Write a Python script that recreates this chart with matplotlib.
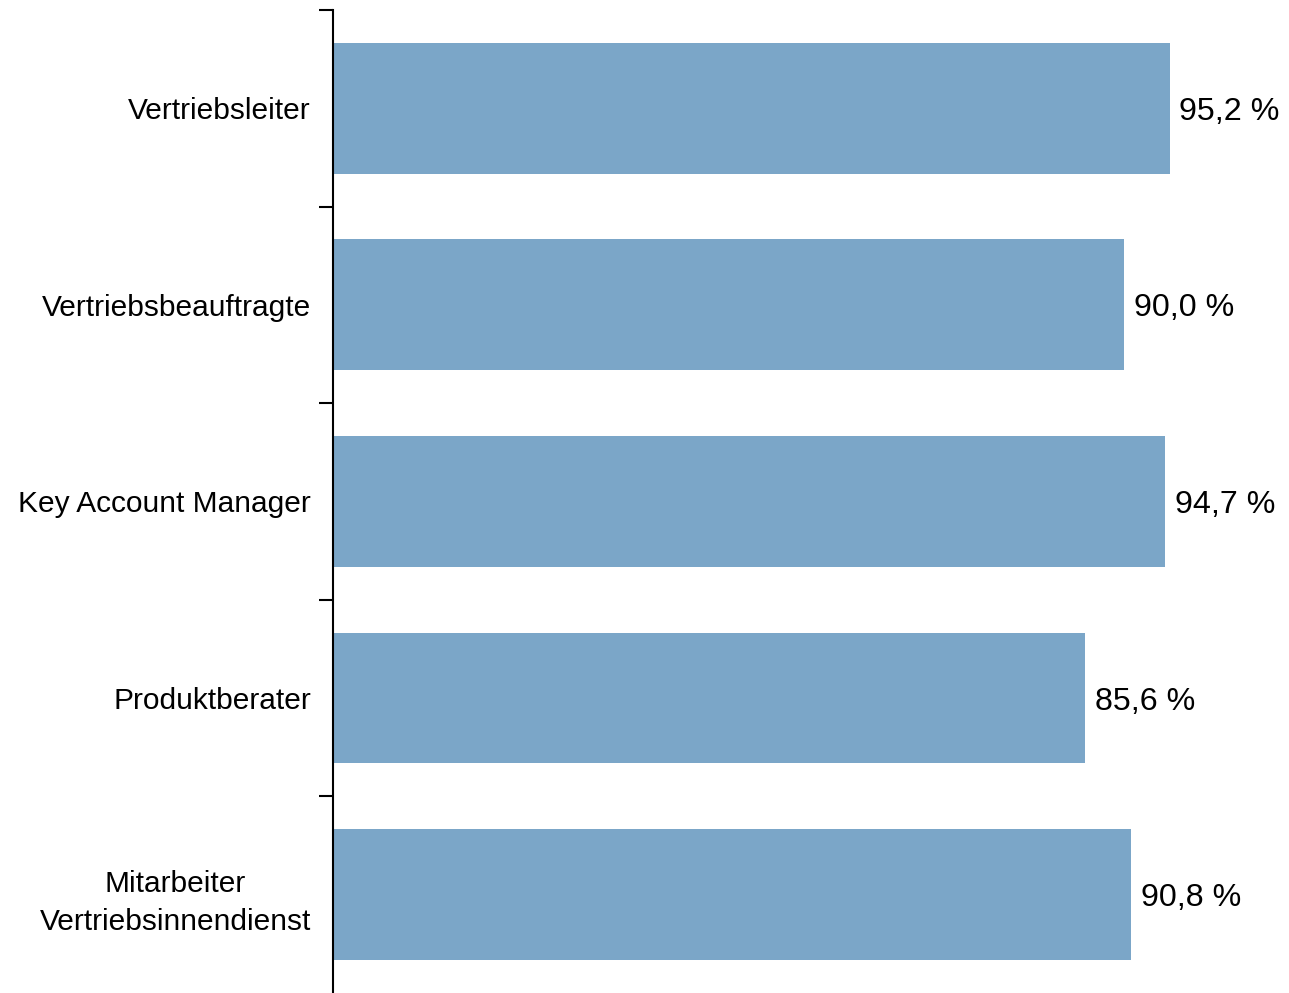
import matplotlib.pyplot as plt
import numpy as np

plt.rcParams['font.family'] = ['Liberation Sans', 'DejaVu Sans']

# job roles and their share in percent
roles = ['Vertriebsleiter', 'Vertriebsbeauftragte', 'Key Account Manager',
         'Produktberater', 'Mitarbeiter\nVertriebsinnendienst']
shares = [95.2, 90.0, 94.7, 85.6, 90.8]

bar_color = '#7ba6c8'

fig = plt.figure(figsize=(12.89, 9.93), dpi=100)
ax = fig.add_axes([333 / 1289, 0.0, 879 / 1289, 0.99])

y = np.arange(len(roles))
ax.barh(y, shares, height=0.665, color=bar_color)

for yi, v in zip(y, shares):
    ax.text(v + 1.1, yi, f'{v:.1f} %'.replace('.', ','), va='center_baseline',
            ha='left', fontsize=23.2, clip_on=False)

ax.set_xlim(0, 100)
ax.set_ylim(len(roles) - 0.5, -0.5)

for s in ['top', 'right', 'bottom']:
    ax.spines[s].set_visible(False)
ax.spines['left'].set_linewidth(1.5)

ax.set_xticks([])
ax.set_yticks(y)
ax.set_yticklabels(roles, fontsize=21.5)
ax.tick_params(axis='y', which='major', length=0, pad=16)
ax.set_yticks(np.arange(len(roles)) - 0.5, minor=True)
ax.tick_params(axis='y', which='minor', length=10, width=1.5, direction='out')
for lbl in ax.get_yticklabels():
    lbl.set_multialignment('center')
    lbl.set_linespacing(1.45)

fig.savefig('out.png', dpi=100)
